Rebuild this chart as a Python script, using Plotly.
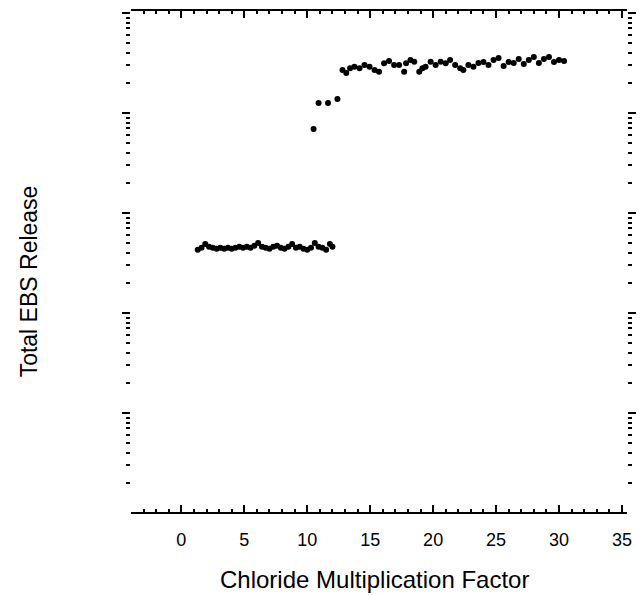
import plotly.graph_objects as go

# Lower plateau (chloride factor, total EBS release)
low_x = [1.3, 1.6, 1.9, 2.2, 2.5, 2.8, 3.1, 3.4, 3.7, 4.0, 4.3, 4.6, 4.9, 5.2, 5.5,
         5.8, 6.1, 6.4, 6.7, 7.0, 7.3, 7.6, 7.9, 8.2, 8.5, 8.8, 9.1, 9.4, 9.7, 10.0,
         10.3, 10.6, 10.9, 11.2, 11.5, 11.8, 12.0]
low_y = [0.0043, 0.0045, 0.0049, 0.0046, 0.0045, 0.0044, 0.0045, 0.0044, 0.0045, 0.0044,
         0.0045, 0.0046, 0.0045, 0.0046, 0.0045, 0.0047, 0.0050, 0.0046, 0.0045, 0.0044,
         0.0046, 0.0047, 0.0045, 0.0044, 0.0046, 0.0049, 0.0045, 0.0046, 0.0044, 0.0043,
         0.0045, 0.0050, 0.0046, 0.0045, 0.0043, 0.0049, 0.0046]

# Transition points
mid_x = [10.5, 10.9, 11.65, 12.4]
mid_y = [0.069, 0.126, 0.126, 0.138]

# Upper plateau
high_x = [12.8, 13.1, 13.4, 13.75, 14.15, 14.55, 14.95, 15.35, 15.7, 16.1, 16.5, 16.9,
          17.3, 17.7, 17.85, 18.2, 18.5, 18.9, 19.15, 19.4, 19.8, 20.2, 20.6, 21.0,
          21.35, 21.75, 22.15, 22.4, 22.8, 23.2, 23.6, 24.0, 24.4, 24.8, 25.2, 25.6,
          26.0, 26.4, 26.8, 27.2, 27.6, 28.0, 28.4, 28.8, 29.2, 29.6, 30.0, 30.4]
high_y = [0.269, 0.251, 0.280, 0.290, 0.280, 0.302, 0.290, 0.269, 0.259, 0.314, 0.331, 0.302,
          0.302, 0.259, 0.314, 0.339, 0.326, 0.259, 0.280, 0.290, 0.326, 0.302, 0.326, 0.314,
          0.339, 0.302, 0.280, 0.269, 0.302, 0.290, 0.316, 0.324, 0.302, 0.339, 0.355, 0.295,
          0.324, 0.316, 0.347, 0.309, 0.339, 0.363, 0.316, 0.347, 0.363, 0.324, 0.339, 0.331]

x_tickvals = [0, 5, 10, 15, 20, 25, 30, 35]
x_ticktext = ["0", "5", "10", "15", "20", "25", "30", "35"]

fig = go.Figure()
marker = dict(color="black", size=6, line=dict(width=0))
for xs, ys in [(low_x, low_y), (mid_x, mid_y), (high_x, high_y)]:
    fig.add_trace(go.Scatter(x=xs, y=ys, mode="markers", marker=marker,
                             showlegend=False, hoverinfo="skip"))

font = "Liberation Sans, Arial, sans-serif"
fig.update_layout(
    width=641, height=595,
    margin=dict(l=131, r=9, t=11, b=83),
    paper_bgcolor="white", plot_bgcolor="white",
    font=dict(family=font, color="black", size=17),
    xaxis=dict(range=[-4.0, 35.4], tickvals=x_tickvals, ticktext=x_ticktext,
               showline=True, linecolor="black", linewidth=2, mirror="ticks",
               ticks="inside", ticklen=7, tickwidth=1.5, tickcolor="black",
               minor=dict(ticks="inside", ticklen=3, dtick=1, tickcolor="black", showgrid=False),
               showgrid=False, zeroline=False, ticklabelstandoff=10,
               tickfont=dict(size=18, family=font, color="black")),
    yaxis=dict(type="log", range=[-4.99, 0.02], dtick=1,
               showline=False, mirror="ticks",
               ticks="outside", ticklen=8, tickwidth=2, tickcolor="black",
               minor=dict(ticks="outside", ticklen=4, tickwidth=2, dtick="D1",
                          tickcolor="black", showgrid=False),
               showticklabels=False, showgrid=False, zeroline=False),
    annotations=[
        dict(text="Chloride Multiplication Factor", xref="paper", yref="paper",
             x=0.49, y=-0.1357, xanchor="center", yanchor="middle", showarrow=False,
             font=dict(size=24, family=font, color="black")),
        dict(text="Total EBS Release", xref="paper", yref="paper",
             x=-0.205, y=0.461, xanchor="center", yanchor="middle", showarrow=False,
             textangle=-90, font=dict(size=23, family=font, color="black")),
    ],
)

fig.write_html("out.html")
